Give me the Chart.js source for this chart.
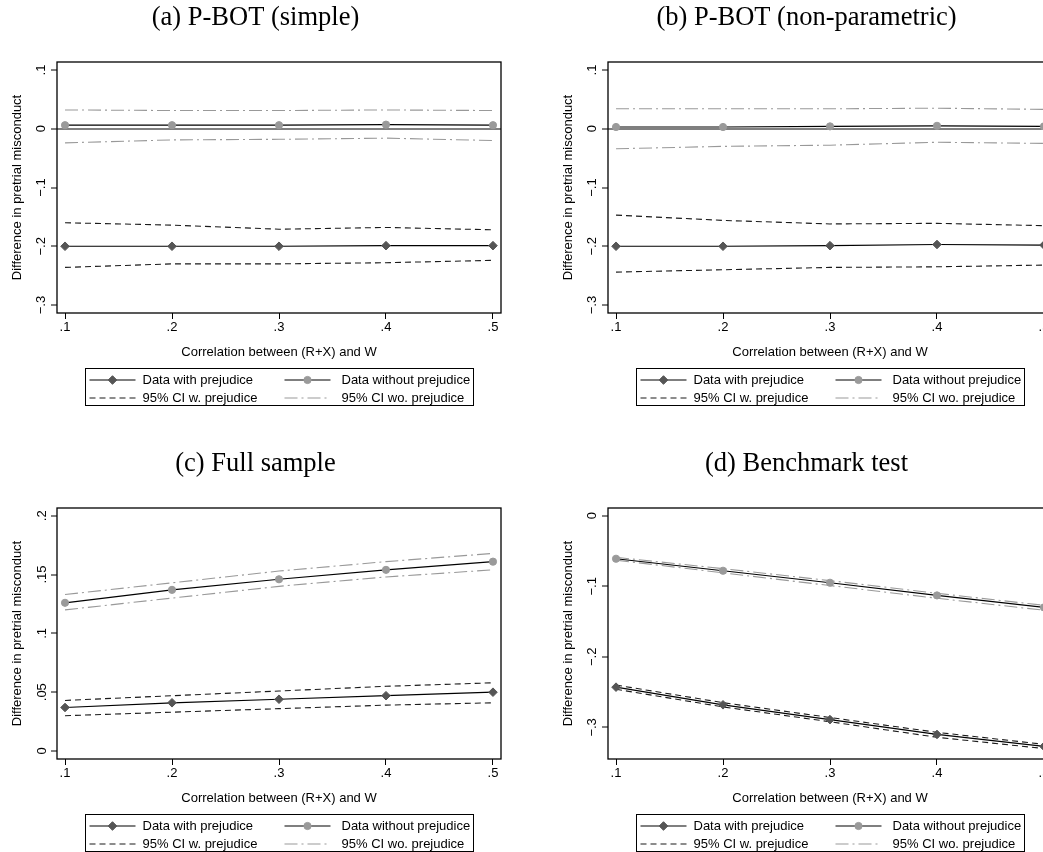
<!DOCTYPE html>
<html>
<head>
<meta charset="utf-8">
<script src="https://cdn.jsdelivr.net/npm/chart.js@4.4.1/dist/chart.umd.min.js"></script>
<style>
html,body{margin:0;padding:0;background:#fff;overflow:hidden;width:1043px;height:852px;}
.panel{position:absolute;width:550px;height:446px;}
canvas{display:block;}
</style>
</head>
<body>
<div class="panel" style="left:0;top:0"><canvas id="ca" width="550" height="446"></canvas></div>
<div class="panel" style="left:551px;top:0"><canvas id="cb" width="550" height="446"></canvas></div>
<div class="panel" style="left:0;top:446px"><canvas id="cc" width="550" height="446"></canvas></div>
<div class="panel" style="left:551px;top:446px"><canvas id="cd" width="550" height="446"></canvas></div>
<script>
// ---------- data ----------
const xValues = [0.1, 0.2, 0.3, 0.4, 0.5];
const xTickValues = [0.1, 0.2, 0.3, 0.4, 0.5];
const xTickLabels = ['.1', '.2', '.3', '.4', '.5'];
const seriesLabels = ['Data with prejudice', 'Data without prejudice', '95% CI w. prejudice', '95% CI wo. prejudice'];
const panelTitles = ['(a) P-BOT (simple)', '(b) P-BOT (non-parametric)', '(c) Full sample', '(d) Benchmark test'];
const xAxisTitle = 'Correlation between (R+X) and W';
const yAxisTitle = 'Difference in pretrial misconduct';

// (a) P-BOT (simple)
const aWith      = [-0.200, -0.200, -0.200, -0.199, -0.199];
const aWithout   = [0.006, 0.006, 0.006, 0.007, 0.006];
const aCIwUpper  = [-0.160, -0.164, -0.171, -0.168, -0.172];
const aCIwLower  = [-0.236, -0.230, -0.230, -0.228, -0.224];
const aCIwoUpper = [0.032, 0.031, 0.031, 0.032, 0.031];
const aCIwoLower = [-0.024, -0.019, -0.018, -0.016, -0.020];
const aYTickValues = [-0.3, -0.2, -0.1, 0, 0.1];
const aYTickLabels = ['\u2212.3', '\u2212.2', '\u2212.1', '0', '.1'];

// (b) P-BOT (non-parametric)
const bWith      = [-0.200, -0.200, -0.199, -0.197, -0.198];
const bWithout   = [0.003, 0.003, 0.004, 0.005, 0.004];
const bCIwUpper  = [-0.147, -0.156, -0.162, -0.161, -0.165];
const bCIwLower  = [-0.244, -0.240, -0.236, -0.235, -0.232];
const bCIwoUpper = [0.034, 0.034, 0.034, 0.035, 0.033];
const bCIwoLower = [-0.034, -0.030, -0.028, -0.023, -0.025];
const bYTickValues = [-0.3, -0.2, -0.1, 0, 0.1];
const bYTickLabels = ['\u2212.3', '\u2212.2', '\u2212.1', '0', '.1'];

// (c) Full sample
const cWith      = [0.037, 0.041, 0.044, 0.047, 0.050];
const cWithout   = [0.126, 0.137, 0.146, 0.154, 0.161];
const cCIwUpper  = [0.043, 0.047, 0.051, 0.055, 0.058];
const cCIwLower  = [0.030, 0.033, 0.036, 0.039, 0.041];
const cCIwoUpper = [0.133, 0.143, 0.153, 0.161, 0.168];
const cCIwoLower = [0.120, 0.130, 0.140, 0.148, 0.154];
const cYTickValues = [0, 0.05, 0.1, 0.15, 0.2];
const cYTickLabels = ['0', '.05', '.1', '.15', '.2'];

// (d) Benchmark test
const dWith      = [-0.243, -0.268, -0.289, -0.310, -0.327];
const dWithout   = [-0.061, -0.078, -0.095, -0.113, -0.130];
const dCIwUpper  = [-0.240, -0.265, -0.286, -0.307, -0.324];
const dCIwLower  = [-0.246, -0.271, -0.292, -0.314, -0.330];
const dCIwoUpper = [-0.059, -0.075, -0.092, -0.110, -0.127];
const dCIwoLower = [-0.063, -0.081, -0.099, -0.117, -0.134];
const dYTickValues = [-0.3, -0.2, -0.1, 0];
const dYTickLabels = ['\u2212.3', '\u2212.2', '\u2212.1', '0'];

// ---------- styling / helpers ----------
const SANS = '"Liberation Sans", Arial, Helvetica, sans-serif';
const SERIF = '"Liberation Serif", "Times New Roman", serif';
const DIAMOND = '#555555';
const CIRCLE = '#9a9a9a';

function pts(vals) { return xValues.map((x, i) => ({ x: x, y: vals[i] })); }

function drawMarker(ctx, style, x, y, r, color) {
  ctx.save();
  ctx.fillStyle = color; ctx.strokeStyle = color; ctx.lineWidth = 1;
  ctx.beginPath();
  if (style === 'rectRot') {
    ctx.moveTo(x - r, y); ctx.lineTo(x, y - r); ctx.lineTo(x + r, y); ctx.lineTo(x, y + r); ctx.closePath();
  } else {
    ctx.arc(x, y, r, 0, Math.PI * 2);
  }
  ctx.fill(); ctx.stroke();
  ctx.restore();
}

const framePlugin = {
  id: 'frame',
  beforeDatasetsDraw(chart) {
    const { ctx, chartArea: a } = chart;
    ctx.save();
    ctx.strokeStyle = '#000'; ctx.lineWidth = 1.3;
    ctx.strokeRect(a.left, a.top, a.right - a.left, a.bottom - a.top);
    ctx.restore();
  }
};

const legendPlugin = {
  id: 'stataLegend',
  afterDraw(chart) {
    const { ctx, chartArea: a } = chart;
    const bw = 388, bh = 37;
    const bx = Math.round((a.left + a.right) / 2 - bw / 2) + 0.5;
    const by = Math.round(a.bottom + 55) + 0.5;
    ctx.save();
    ctx.fillStyle = '#fff'; ctx.fillRect(bx, by, bw, bh);
    ctx.strokeStyle = '#000'; ctx.lineWidth = 1; ctx.setLineDash([]);
    ctx.strokeRect(bx, by, bw, bh);
    const items = chart.data.datasets.filter(d => d.inLegend);
    items.forEach((ds, i) => {
      const col = i % 2, row = Math.floor(i / 2);
      const sx = bx + (col ? 199 : 4);
      const tx = bx + (col ? 256 : 57);
      const y = by + (row ? 29.5 : 11.5);
      ctx.save();
      ctx.setLineDash(ds.borderDash || []);
      ctx.strokeStyle = ds.borderColor; ctx.lineWidth = ds.borderWidth;
      ctx.beginPath(); ctx.moveTo(sx, y); ctx.lineTo(sx + 46, y); ctx.stroke();
      ctx.restore();
      if (ds.pointRadius > 0) drawMarker(ctx, ds.pointStyle, sx + 23, y, ds.pointRadius, ds.pointBackgroundColor);
      ctx.fillStyle = '#000'; ctx.font = '13px ' + SANS;
      ctx.textBaseline = 'middle'; ctx.textAlign = 'left';
      ctx.fillText(ds.label, tx, y);
    });
    ctx.restore();
  }
};

function labelFor(values, labels, v) {
  const i = values.findIndex(t => Math.abs(t - v) < 1e-9);
  return i >= 0 ? labels[i] : '';
}

function makeChart(id, title, s, yTicks, yLabels, yMin, yMax, refLine) {
  const datasets = [
    { label: seriesLabels[0], inLegend: true, data: pts(s.with), borderColor: '#000', borderWidth: 1.2,
      pointStyle: 'rectRot', pointRadius: 4.3, pointBackgroundColor: DIAMOND, pointBorderColor: DIAMOND, pointBorderWidth: 1 },
    { label: seriesLabels[1], inLegend: true, data: pts(s.without), borderColor: '#000', borderWidth: 1.2,
      pointStyle: 'circle', pointRadius: 3.6, pointBackgroundColor: CIRCLE, pointBorderColor: CIRCLE, pointBorderWidth: 1 },
    { label: seriesLabels[2], inLegend: true, data: pts(s.ciwU), borderColor: '#1a1a1a', borderWidth: 1.1,
      borderDash: [6, 4], pointRadius: 0 },
    { label: seriesLabels[3], inLegend: true, data: pts(s.ciwoU), borderColor: '#999999', borderWidth: 1.1,
      borderDash: [13, 4, 2, 4], pointRadius: 0 },
    { label: seriesLabels[2] + ' (lower)', inLegend: false, data: pts(s.ciwL), borderColor: '#1a1a1a', borderWidth: 1.1,
      borderDash: [6, 4], pointRadius: 0 },
    { label: seriesLabels[3] + ' (lower)', inLegend: false, data: pts(s.ciwoL), borderColor: '#999999', borderWidth: 1.1,
      borderDash: [13, 4, 2, 4], pointRadius: 0 }
  ];
  datasets.forEach(d => { d.fill = false; d.tension = 0; d.pointHoverRadius = d.pointRadius; });

  return new Chart(document.getElementById(id), {
    type: 'line',
    data: { datasets },
    options: {
      responsive: false,
      animation: false,
      events: [],
      layout: { padding: { left: 10, right: 49, top: 0, bottom: 83 } },
      plugins: {
        legend: { display: false },
        tooltip: { enabled: false },
        title: {
          display: true, text: title, color: '#000',
          font: { family: SERIF, size: 26.5, weight: 'normal', lineHeight: 1.2 },
          padding: { top: 2.6, bottom: 27.6 }
        }
      },
      scales: {
        x: {
          type: 'linear', min: 0.0925, max: 0.5075,
          afterBuildTicks: sc => { sc.ticks = xTickValues.map(v => ({ value: v })); },
          afterFit: sc => { sc.height = 50; sc.paddingLeft = 0; sc.paddingRight = 0; },
          border: { display: false },
          grid: { drawOnChartArea: false, drawTicks: true, tickLength: 6, tickColor: '#000', tickWidth: 1, color: '#000' },
          ticks: {
            autoSkip: false, maxRotation: 0, minRotation: 0, padding: 1, color: '#000',
            font: { family: SANS, size: 13 },
            callback: v => labelFor(xTickValues, xTickLabels, v)
          },
          title: { display: true, text: xAxisTitle, color: '#000', font: { family: SANS, size: 13 }, padding: { top: 0, bottom: 3 } }
        },
        y: {
          type: 'linear', min: yMin, max: yMax,
          afterBuildTicks: sc => { sc.ticks = yTicks.map(v => ({ value: v })); },
          afterFit: sc => { sc.width = 47; sc.paddingTop = 0; sc.paddingBottom = 0; },
          border: { display: false },
          grid: {
            drawOnChartArea: refLine, drawTicks: true, tickLength: 6, tickColor: '#000', tickWidth: 1,
            lineWidth: 2,
            color: c => (refLine && c.tick && Math.abs(c.tick.value) < 1e-9) ? '#808080' : 'rgba(0,0,0,0)'
          },
          ticks: {
            autoSkip: false, minRotation: 90, maxRotation: 90, crossAlign: 'center', padding: 0, color: '#000',
            font: { family: SANS, size: 13 },
            callback: v => labelFor(yTicks, yLabels, v)
          },
          title: { display: true, text: yAxisTitle, color: '#000', font: { family: SANS, size: 13 }, padding: { top: 0, bottom: 0 } }
        }
      }
    },
    plugins: [framePlugin, legendPlugin]
  });
}

makeChart('ca', panelTitles[0],
  { with: aWith, without: aWithout, ciwU: aCIwUpper, ciwL: aCIwLower, ciwoU: aCIwoUpper, ciwoL: aCIwoLower },
  aYTickValues, aYTickLabels, -0.3136, 0.1136, true);
makeChart('cb', panelTitles[1],
  { with: bWith, without: bWithout, ciwU: bCIwUpper, ciwL: bCIwLower, ciwoU: bCIwoUpper, ciwoL: bCIwoLower },
  bYTickValues, bYTickLabels, -0.3136, 0.1136, true);
makeChart('cc', panelTitles[2],
  { with: cWith, without: cWithout, ciwU: cCIwUpper, ciwL: cCIwLower, ciwoU: cCIwoUpper, ciwoL: cCIwoLower },
  cYTickValues, cYTickLabels, -0.0068, 0.2066, false);
makeChart('cd', panelTitles[3],
  { with: dWith, without: dWithout, ciwU: dCIwUpper, ciwL: dCIwLower, ciwoU: dCIwoUpper, ciwoL: dCIwoLower },
  dYTickValues, dYTickLabels, -0.3448, 0.0109, false);
</script>
</body>
</html>
